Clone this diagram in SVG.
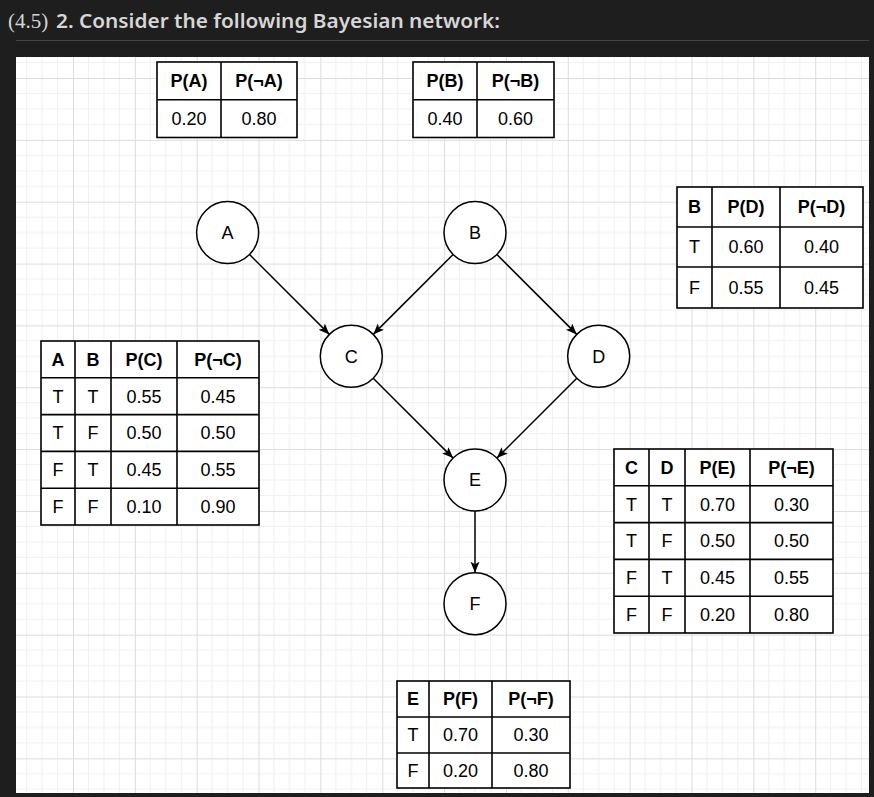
<svg xmlns="http://www.w3.org/2000/svg" width="874" height="797" viewBox="0 0 874 797">
<style>
.hdr{font-family:"Noto Sans","Open Sans",sans-serif;font-weight:600;font-size:20px;fill:#d6d6d6}
.math{font-family:"Liberation Serif",serif;font-size:21px;fill:#d6d6d6}
.tb rect,.tb line{stroke:#000;stroke-width:1.6;fill:none}
.tb text{font-family:"Liberation Sans",Arial,sans-serif;font-size:18px;fill:#000;text-anchor:middle}
.tb .h{font-weight:bold}
.node circle{fill:#fff;stroke:#000;stroke-width:1.5}
.node text{font-family:"Liberation Sans",Arial,sans-serif;font-size:18px;fill:#000;text-anchor:middle}
.edge{stroke:#000;stroke-width:1.5;fill:none;marker-end:url(#arr)}
</style>
<defs>
<pattern id="grid" patternUnits="userSpaceOnUse" x="73" y="78" width="61.85" height="61.85">
<rect width="61.85" height="61.85" fill="#fff"/>
<path d="M15.46,0V61.85M30.93,0V61.85M46.39,0V61.85M0,15.46H61.85M0,30.93H61.85M0,46.39H61.85" stroke="#f0f0f0" stroke-width="1"/>
<path d="M0.5,0V61.85M0,0.5H61.85" stroke="#dcdcdc" stroke-width="1"/>
</pattern>
<marker id="arr" markerUnits="userSpaceOnUse" markerWidth="12" markerHeight="10" refX="11" refY="4.5" orient="auto">
<path d="M0,0 L11,4.5 L0,9 L2.5,4.5 Z" fill="#000"/>
</marker>
</defs>
<rect width="874" height="797" fill="#1e1e1e"/>
<text class="math" x="8" y="28">(4.5)</text>
<text class="hdr" x="56" y="28" textLength="444" lengthAdjust="spacingAndGlyphs">2. Consider the following Bayesian network:</text>
<line x1="16" y1="40.5" x2="869" y2="40.5" stroke="#444" stroke-width="1"/>
<rect x="16" y="57" width="853" height="736" fill="url(#grid)"/>

<g id="connectors">
<line class="edge" x1="249.5" y1="254.5" x2="329.4" y2="334.4"/>
<line class="edge" x1="453.1" y1="254.5" x2="373.2" y2="334.4"/>
<line class="edge" x1="496.9" y1="254.5" x2="576.8" y2="334.4"/>
<line class="edge" x1="373.2" y1="378.2" x2="453.1" y2="458.1"/>
<line class="edge" x1="576.8" y1="378.2" x2="496.9" y2="458.1"/>
<line class="edge" x1="475" y1="511" x2="475" y2="572.7"/>
</g>

<g id="node-A" class="node"><circle cx="227.6" cy="232.6" r="31"/><text x="227.6" y="239">A</text></g>
<g id="node-B" class="node"><circle cx="475" cy="232.6" r="31"/><text x="475" y="239">B</text></g>
<g id="node-C" class="node"><circle cx="351.3" cy="356.3" r="31"/><text x="351.3" y="362.7">C</text></g>
<g id="node-D" class="node"><circle cx="598.7" cy="356.3" r="31"/><text x="598.7" y="362.7">D</text></g>
<g id="node-E" class="node"><circle cx="475" cy="480" r="31"/><text x="475" y="486.4">E</text></g>
<g id="node-F" class="node"><circle cx="475" cy="603.7" r="31"/><text x="475" y="610.1">F</text></g>

<g id="table-A" class="tb">
<rect x="157" y="62" width="140" height="75.5" style="fill:#fff"/>
<line x1="221" y1="62" x2="221" y2="137.5"/><line x1="157" y1="99.8" x2="297" y2="99.8"/>
<text class="h" x="189" y="87.4">P(A)</text><text class="h" x="259" y="87.4">P(¬A)</text>
<text x="189" y="125">0.20</text><text x="259" y="125">0.80</text>
</g>

<g id="table-B" class="tb">
<rect x="413" y="62" width="141" height="75.5" style="fill:#fff"/>
<line x1="477" y1="62" x2="477" y2="137.5"/><line x1="413" y1="99.8" x2="554" y2="99.8"/>
<text class="h" x="445" y="87.4">P(B)</text><text class="h" x="515.5" y="87.4">P(¬B)</text>
<text x="445" y="125">0.40</text><text x="515.5" y="125">0.60</text>
</g>

<g id="table-D" class="tb">
<rect x="677" y="187" width="186" height="121" style="fill:#fff"/>
<line x1="712" y1="187" x2="712" y2="308"/><line x1="780" y1="187" x2="780" y2="308"/>
<line x1="677" y1="227" x2="863" y2="227"/><line x1="677" y1="267" x2="863" y2="267"/>
<text class="h" x="694.5" y="213.4">B</text><text class="h" x="746" y="213.4">P(D)</text><text class="h" x="821.5" y="213.4">P(¬D)</text>
<text x="694.5" y="253.4">T</text><text x="746" y="253.4">0.60</text><text x="821.5" y="253.4">0.40</text>
<text x="694.5" y="293.9">F</text><text x="746" y="293.9">0.55</text><text x="821.5" y="293.9">0.45</text>
</g>

<g id="table-C" class="tb">
<rect x="41" y="341" width="218" height="184" style="fill:#fff"/>
<line x1="75" y1="341" x2="75" y2="525"/><line x1="111" y1="341" x2="111" y2="525"/><line x1="177" y1="341" x2="177" y2="525"/>
<line x1="41" y1="377.8" x2="259" y2="377.8"/><line x1="41" y1="414.6" x2="259" y2="414.6"/><line x1="41" y1="451.4" x2="259" y2="451.4"/><line x1="41" y1="488.2" x2="259" y2="488.2"/>
<text class="h" x="58" y="365.8">A</text><text class="h" x="93" y="365.8">B</text><text class="h" x="144" y="365.8">P(C)</text><text class="h" x="218" y="365.8">P(¬C)</text>
<text x="58" y="402.6">T</text><text x="93" y="402.6">T</text><text x="144" y="402.6">0.55</text><text x="218" y="402.6">0.45</text>
<text x="58" y="439.4">T</text><text x="93" y="439.4">F</text><text x="144" y="439.4">0.50</text><text x="218" y="439.4">0.50</text>
<text x="58" y="476.2">F</text><text x="93" y="476.2">T</text><text x="144" y="476.2">0.45</text><text x="218" y="476.2">0.55</text>
<text x="58" y="513">F</text><text x="93" y="513">F</text><text x="144" y="513">0.10</text><text x="218" y="513">0.90</text>
</g>

<g id="table-E" class="tb">
<rect x="614" y="449" width="219" height="184" style="fill:#fff"/>
<line x1="649" y1="449" x2="649" y2="633"/><line x1="685" y1="449" x2="685" y2="633"/><line x1="750" y1="449" x2="750" y2="633"/>
<line x1="614" y1="485.8" x2="833" y2="485.8"/><line x1="614" y1="522.6" x2="833" y2="522.6"/><line x1="614" y1="559.4" x2="833" y2="559.4"/><line x1="614" y1="596.2" x2="833" y2="596.2"/>
<text class="h" x="631.5" y="473.8">C</text><text class="h" x="667" y="473.8">D</text><text class="h" x="717.5" y="473.8">P(E)</text><text class="h" x="791.5" y="473.8">P(¬E)</text>
<text x="631.5" y="510.6">T</text><text x="667" y="510.6">T</text><text x="717.5" y="510.6">0.70</text><text x="791.5" y="510.6">0.30</text>
<text x="631.5" y="547.4">T</text><text x="667" y="547.4">F</text><text x="717.5" y="547.4">0.50</text><text x="791.5" y="547.4">0.50</text>
<text x="631.5" y="584.2">F</text><text x="667" y="584.2">T</text><text x="717.5" y="584.2">0.45</text><text x="791.5" y="584.2">0.55</text>
<text x="631.5" y="621">F</text><text x="667" y="621">F</text><text x="717.5" y="621">0.20</text><text x="791.5" y="621">0.80</text>
</g>

<g id="table-F" class="tb">
<rect x="397" y="681" width="173" height="107" style="fill:#fff"/>
<line x1="429" y1="681" x2="429" y2="788"/><line x1="492" y1="681" x2="492" y2="788"/>
<line x1="397" y1="717" x2="570" y2="717"/><line x1="397" y1="753" x2="570" y2="753"/>
<text class="h" x="413" y="705.4">E</text><text class="h" x="460.5" y="705.4">P(F)</text><text class="h" x="531" y="705.4">P(¬F)</text>
<text x="413" y="741.4">T</text><text x="460.5" y="741.4">0.70</text><text x="531" y="741.4">0.30</text>
<text x="413" y="777">F</text><text x="460.5" y="777">0.20</text><text x="531" y="777">0.80</text>
</g>
</svg>
